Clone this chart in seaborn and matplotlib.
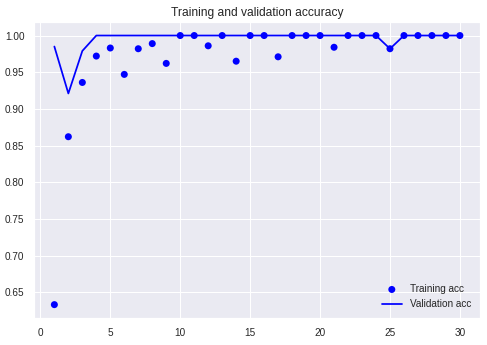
import matplotlib
matplotlib.use("Agg")
import matplotlib.pyplot as plt
import seaborn as sns
import pandas as pd

epochs = list(range(1, 31))
train_acc = [0.633, 0.862, 0.936, 0.972, 0.983, 0.947, 0.982, 0.989, 0.962, 1.0,
             1.0, 0.986, 1.0, 0.965, 1.0, 1.0, 0.971, 1.0, 1.0, 1.0,
             0.984, 1.0, 1.0, 1.0, 0.982, 1.0, 1.0, 1.0, 1.0, 1.0]
val_acc = [0.985, 0.921, 0.979, 1.0, 1.0, 1.0, 1.0, 1.0, 1.0, 1.0,
           1.0, 1.0, 1.0, 1.0, 1.0, 1.0, 1.0, 1.0, 1.0, 1.0,
           1.0, 1.0, 1.0, 1.0, 0.982, 1.0, 1.0, 1.0, 1.0, 1.0]

df = pd.DataFrame({"epoch": epochs, "train": train_acc, "val": val_acc})

sns.set_theme(style="darkgrid", rc={
    "axes.titlesize": 12, "xtick.labelsize": 10, "ytick.labelsize": 10,
    "legend.fontsize": 10, "lines.linewidth": 1.75,
})
plt.rcParams["font.family"] = ["Liberation Sans", "DejaVu Sans"]

fig, ax = plt.subplots(figsize=(487 / 72, 345 / 72), dpi=72)
fig.subplots_adjust(left=0.070, right=0.986, top=0.936, bottom=0.078)

sns.scatterplot(data=df, x="epoch", y="train", ax=ax, color="blue", s=49,
                edgecolor="none", label="Training acc")
sns.lineplot(data=df, x="epoch", y="val", ax=ax, color="blue",
             label="Validation acc")

ax.set_title("Training and validation accuracy")
ax.set_xlabel("")
ax.set_ylabel("")
ax.set_xticks([0, 5, 10, 15, 20, 25, 30])
ax.legend(loc="lower right", frameon=False)

fig.savefig("out.png", dpi=72)
